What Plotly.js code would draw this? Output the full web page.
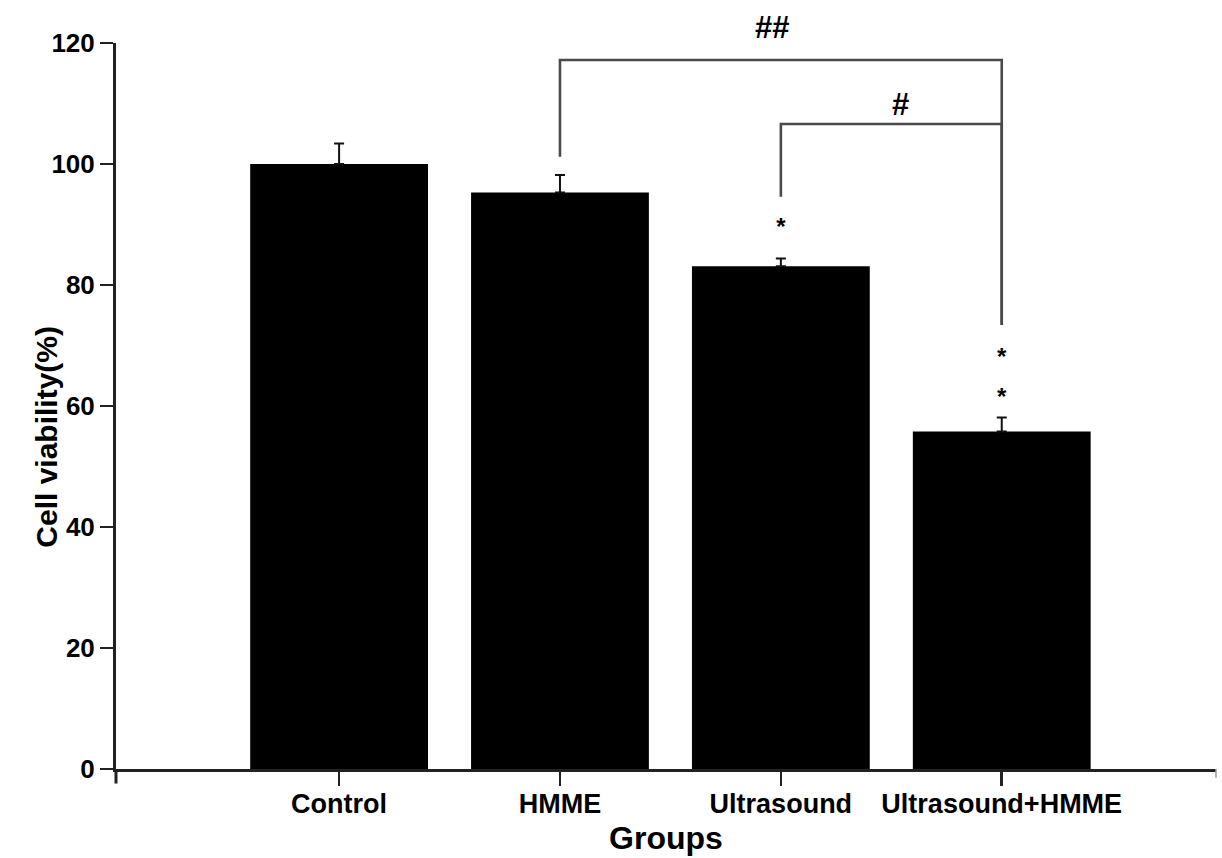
<!DOCTYPE html>
<html>
<head>
<meta charset="utf-8">
<script src="https://cdn.plot.ly/plotly-3.0.1.min.js"></script>
<style>html,body{margin:0;padding:0;background:#fff;}#chart{width:1222px;height:858px;}</style>
</head>
<body>
<div id="chart"></div>
<script>
// ---- data ----
const categories = ['Control', 'HMME', 'Ultrasound', 'Ultrasound+HMME'];
const viability = [100, 95.3, 83.1, 55.8];
const sem = [3.4, 2.9, 1.3, 2.3];
const yTicks = [0, 20, 40, 60, 80, 100, 120];
const yMax = 120;

// significance brackets (group indices and heights in % units)
const bracketFrom = [1, 2];
const bracketTo = [3, 3];
const bracketTop = [117.2, 106.6];
const bracketLeftEnd = [101.2, 94.6];
const bracketRightEnd = [73.4, 73.4];
const bracketLabels = ['##', '#'];
const bracketLabelX = [1.96, 2.54];
const bracketLabelY = [122.6, 109.8];

// asterisks
const starX = [2, 3, 3];
const starY = [89.2, 67.8, 61.2];

const idx = categories.map((c, i) => i);
const FONT = 'Liberation Sans, Arial, sans-serif';
const INK = '#222';

const traces = [{
  type: 'bar',
  x: idx,
  y: viability,
  marker: {color: '#000', line: {width: 0}},
  error_y: {type: 'data', symmetric: false, array: sem, arrayminus: sem.map(() => 0),
            color: '#111', thickness: 2, width: 5},
  hoverinfo: 'x+y',
  showlegend: false
}];

for (let i = 0; i < bracketFrom.length; i++) {
  traces.push({
    type: 'scatter', mode: 'lines',
    x: [bracketFrom[i], bracketFrom[i], bracketTo[i], bracketTo[i]],
    y: [bracketLeftEnd[i], bracketTop[i], bracketTop[i], bracketRightEnd[i]],
    line: {color: '#4a4a4a', width: 2.6},
    cliponaxis: false, hoverinfo: 'skip', showlegend: false
  });
}

traces.push({
  type: 'scatter', mode: 'text',
  x: starX, y: starY,
  text: starX.map(() => '*'), textposition: 'middle center',
  textfont: {family: FONT, size: 24, color: '#000', weight: 'bold'},
  cliponaxis: false, hoverinfo: 'skip', showlegend: false
});

const annotations = [{x: -0.08, y: 0.457, xref: 'paper', yref: 'paper', textangle: -90,
  text: '<b>Cell viability(%)</b>', showarrow: false,
  font: {family: FONT, size: 30, color: '#000'}}];

// bracket labels: y measured on the same 0..yMax value scale (label may sit above the axis top)
for (let i = 0; i < bracketLabels.length; i++) {
  annotations.push({x: bracketLabelX[i], xref: 'x', y: bracketLabelY[i] / yMax, yref: 'paper',
    xanchor: 'center', yanchor: 'middle',
    text: '<b>' + bracketLabels[i] + '</b>', showarrow: false,
    font: {family: FONT, size: 31, color: '#000'}});
}

const layout = {
  width: 1222, height: 858,
  margin: {l: 116, r: 6, t: 43, b: 89},
  paper_bgcolor: '#fff', plot_bgcolor: '#fff',
  bargap: 0.195,
  showlegend: false,
  xaxis: {
    type: 'linear', range: [-1.01, 3.97],
    tickvals: idx, ticktext: categories,
    ticks: 'outside', ticklen: 14, tickwidth: 2.5, tickcolor: INK,
    ticklabelstandoff: -5,
    showline: true, linecolor: INK, linewidth: 3,
    showgrid: false, zeroline: false,
    tickfont: {family: FONT, size: 27, color: '#000', weight: 'bold'},
    title: {text: '<b>Groups</b>', font: {family: FONT, size: 32, color: '#000'}, standoff: 9}
  },
  yaxis: {
    range: [0, yMax],
    tickvals: yTicks,
    ticks: 'outside', ticklen: 13, tickwidth: 2.5, tickcolor: INK,
    showline: true, linecolor: INK, linewidth: 3,
    showgrid: false, zeroline: false,
    tickfont: {family: FONT, size: 26, color: '#000', weight: 'bold'}
  },
  shapes: [
    {type: 'line', xref: 'paper', yref: 'paper', x0: 0, x1: 0, y0: 0, y1: -0.02,
     line: {color: INK, width: 3}},
    {type: 'line', xref: 'paper', yref: 'paper', x0: 1, x1: 1, y0: 0, y1: -0.012,
     line: {color: '#999', width: 1.5}}
  ],
  annotations: annotations
};

Plotly.newPlot('chart', traces, layout, {displayModeBar: false, staticPlot: true});
</script>
</body>
</html>
